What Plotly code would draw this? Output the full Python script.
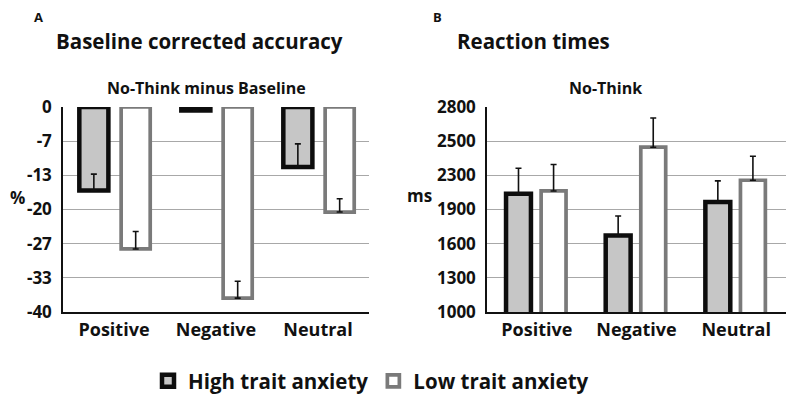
import plotly.graph_objects as go
from plotly.subplots import make_subplots

W, H = 794, 403
OX, OY = 8, 8  # page body margin offset of the rendered figure

categories = ["Positive", "Negative", "Neutral"]
group_names = ["High trait anxiety", "Low trait anxiety"]

# Panel A: Baseline corrected accuracy (No-Think minus Baseline), %
acc_high = [-16.3, -0.7, -11.7]
acc_high_err = [3.2, 0.0, 4.5]
acc_low = [-27.7, -37.3, -20.5]
acc_low_err = [3.4, 3.3, 2.6]
acc_tick_labels = ["0", "-7", "-13", "-20", "-27", "-33", "-40"]

# Panel B: Reaction times (No-Think), ms
rt_high = [2039, 1672, 1966]
rt_high_err = [223, 171, 185]
rt_low = [2063, 2447, 2157]
rt_low_err = [232, 256, 211]
rt_tick_labels = ["1000", "1300", "1600", "1900", "2300", "2500", "2800"]

acc_tick_vals = [-40 * i / 6 for i in range(len(acc_tick_labels))]
rt_tick_vals = [1000 + 300 * i for i in range(len(rt_tick_labels))]

FONT = "Open Sans"
HIGH_FILL, HIGH_LINE = "#c6c6c6", "#0d0d0d"
LOW_FILL, LOW_LINE = "#ffffff", "#7a7a7a"

def px(x):
    return (x - OX) / W

def py(y):
    return 1 - (y - OY) / H

fig = make_subplots(rows=1, cols=2)

def err(vals):
    return dict(type="data", array=vals, arrayminus=[0] * len(vals), symmetric=False,
                color="#111111", thickness=1.6, width=3)

# Panel A bars
fig.add_trace(go.Bar(x=categories, y=acc_high, name=group_names[0], width=0.285, offset=-0.34,
                     marker=dict(color=HIGH_FILL, line=dict(color=HIGH_LINE, width=4.5)),
                     error_y=err(acc_high_err), cliponaxis=False, showlegend=True), row=1, col=1)
fig.add_trace(go.Bar(x=categories, y=acc_low, name=group_names[1], width=0.285, offset=0.07,
                     marker=dict(color=LOW_FILL, line=dict(color=LOW_LINE, width=3.7)),
                     error_y=err(acc_low_err), cliponaxis=False, showlegend=True), row=1, col=1)
# Panel B bars
fig.add_trace(go.Bar(x=categories, y=rt_high, name=group_names[0], width=0.25, offset=-0.309,
                     marker=dict(color=HIGH_FILL, line=dict(color=HIGH_LINE, width=4.5)),
                     error_y=err(rt_high_err), cliponaxis=False, showlegend=False), row=1, col=2)
fig.add_trace(go.Bar(x=categories, y=rt_low, name=group_names[1], width=0.25, offset=0.043,
                     marker=dict(color=LOW_FILL, line=dict(color=LOW_LINE, width=3.7)),
                     error_y=err(rt_low_err), cliponaxis=False, showlegend=False), row=1, col=2)

ydom = [py(312), py(107)]
fig.update_layout(
    width=W, height=H, margin=dict(l=0, r=0, t=0, b=0, autoexpand=False),
    paper_bgcolor="white", plot_bgcolor="white",
    barmode="overlay",
    font=dict(family=FONT, color="#111111", size=17, weight="bold"),
    xaxis=dict(domain=[px(63), px(369)]),
    xaxis2=dict(domain=[px(487), px(786)]),
    yaxis=dict(domain=ydom, range=[-40, 0], tickvals=acc_tick_vals, ticktext=acc_tick_labels),
    yaxis2=dict(domain=ydom, range=[1000, 2800], tickvals=rt_tick_vals, ticktext=rt_tick_labels),
    legend=dict(orientation="h", x=px(148), xanchor="left", y=py(381), yanchor="middle",
                font=dict(family=FONT, size=20.5, weight="bold", color="#111111"),
                bgcolor="rgba(0,0,0,0)"),
)
fig.update_xaxes(showline=True, linecolor="#111111", linewidth=1.5, ticks="", showgrid=False,
                 automargin=False,
                 tickfont=dict(family=FONT, size=18, weight="bold"), ticklabelstandoff=1)
fig.update_yaxes(showline=True, linecolor="#111111", linewidth=1.5, ticks="", showgrid=True,
                 automargin=False,
                 gridcolor="#a8a8a8", gridwidth=1, zeroline=False,
                 tickfont=dict(family=FONT, size=17, weight="bold"), ticklabelstandoff=6)

def ann(text, x, y, size, xanchor="center", pad=1):
    fig.add_annotation(text=text, x=px(x), y=py(y), xref="paper", yref="paper",
                       xanchor=xanchor, yanchor="middle", showarrow=False, borderpad=pad,
                       font=dict(family=FONT, size=size, weight="bold", color="#111111"))

ann("A", 33, 17, 13, "left", 0)
ann("B", 432, 17, 13, "left", 0)
ann("Baseline corrected accuracy", 54, 41, 20.5, "left")
ann("Reaction times", 455, 41, 20.5, "left")
ann("No-Think minus Baseline", 206.5, 88, 16)
ann("No-Think", 605.5, 88, 16)
ann("%", 17.5, 197, 17)
ann("ms", 419.5, 196, 17)

fig.write_html("out.html")
